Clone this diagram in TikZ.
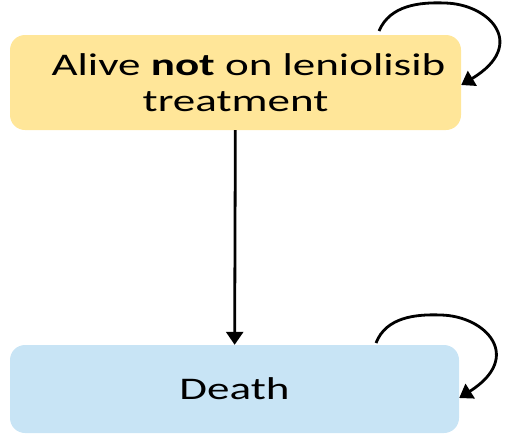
\documentclass[tikz,border=0pt]{standalone}
\usepackage{fontspec}
\setmainfont[FakeStretch=1.43]{Carlito}
\usetikzlibrary{arrows.meta,positioning,shapes}
\definecolor{stategold}{RGB}{255,230,153}
\definecolor{stateblue}{RGB}{200,228,245}

\begin{document}
\begin{tikzpicture}[x=1pt,y=-1pt,
  state/.style={rounded corners=15pt,inner sep=0pt,align=center,
    font=\fontsize{31.5}{36}\selectfont},
  trans/.style={-{Triangle[length=13pt,width=17pt]},line width=2.8pt}]
\useasboundingbox (0,0) rectangle (505,437);
\node[state,fill=stategold,minimum width=451pt,minimum height=95pt] (alive) at (235.5,82.5)
  {\hspace*{26pt}Alive \textbf{not} on leniolisib\\treatment};
\node[state,fill=stateblue,minimum width=449pt,minimum height=88pt] (death) at (234.5,389) {Death};
\coordinate (aliveloop) at (379,31);
\coordinate (deathloop) at (376,343);
\draw[trans] (alive) -- (death);
\draw[trans] (aliveloop) .. controls (390,5) and (420,2) .. (445,3)
  .. controls (490,4) and (528,45) .. (alive.east |- 0,85);
\draw[trans] (deathloop) .. controls (386,317) and (416,314) .. (441,315)
  .. controls (486,316) and (524,357) .. (death.east |- 0,398);
\end{tikzpicture}
\end{document}
